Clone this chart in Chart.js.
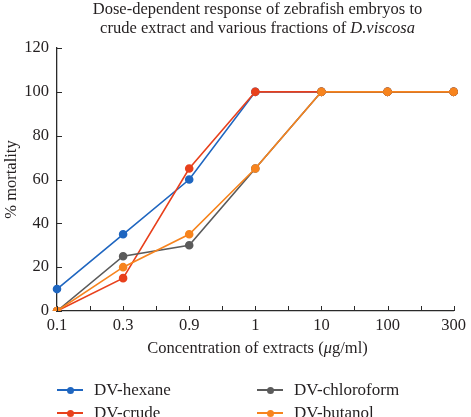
<!DOCTYPE html>
<html>
<head>
<meta charset="utf-8">
<script src="https://cdn.jsdelivr.net/npm/chart.js@4/dist/chart.umd.min.js"></script>
<style>
    body { margin: 0; background: #fff; }
    #wrap { position: relative; width: 471px; height: 417px; overflow: hidden; font-family: 'Liberation Serif', 'DejaVu Serif', serif; color: #231f20; }
    #chart { position: absolute; left: 0; top: 0; }
    #title { position: absolute; left: 57px; width: 401px; top: -1px; text-align: center; font-size: 16.5px; line-height: 19px; white-space: nowrap; }
    #xtitle { position: absolute; left: 57px; width: 401px; top: 338px; text-align: center; font-size: 16.5px; white-space: nowrap; }
    .leg { position: absolute; display: flex; align-items: center; font-size: 17px; white-space: nowrap; }
    .leg .mark { position: relative; width: 26px; height: 2px; margin-right: 11px; }
    .leg .mark span { position: absolute; left: 10px; top: -2.5px; width: 7px; height: 7px; border-radius: 50%; }
</style>
</head>
<body>
<div id="wrap">
    <canvas id="chart" width="471" height="417"></canvas>
    <div id="title">Dose-dependent response of zebrafish embryos to<br>crude extract and various fractions of <i>D.viscosa</i></div>
    <div id="xtitle">Concentration of extracts (<i>μ</i>g/ml)</div>
    <div id="legend"></div>
</div>
<script>
// Data
const concentrations = ['0.1', '0.3', '0.9', '1', '10', '100', '300'];
const hexane = [10, 35, 60, 100, 100, 100, 100];
const crude = [0, 15, 65, 100, 100, 100, 100];
const chloroform = [0, 25, 30, 65, 100, 100, 100];
const butanol = [0, 20, 35, 65, 100, 100, 100];

const seriesNames = ['DV-hexane', 'DV-crude', 'DV-chloroform', 'DV-butanol'];
const seriesColors = ['#1f66c0', '#e8401c', '#5b5b5b', '#f7841e'];
const seriesData = [hexane, crude, chloroform, butanol];

const axisColor = '#2a2a2a';

// short inward ticks, also between categories on the x axis
const inwardTicks = {
    id: 'inwardTicks',
    afterDraw(chart) {
        const ctx = chart.ctx;
        const x = chart.scales.x, y = chart.scales.y;
        ctx.save();
        ctx.strokeStyle = axisColor;
        ctx.lineWidth = 1;
        ctx.beginPath();
        for (let i = 0; i < concentrations.length; i++) {
            const px = Math.round(x.getPixelForValue(i)) + 0.5;
            ctx.moveTo(px, y.bottom);
            ctx.lineTo(px, y.bottom - 5);
            if (i < concentrations.length - 1) {
                const mx = Math.round(x.getPixelForValue(i + 0.5)) + 0.5;
                ctx.moveTo(mx, y.bottom);
                ctx.lineTo(mx, y.bottom - 5);
            }
        }
        y.ticks.forEach(t => {
            const py = Math.round(y.getPixelForValue(t.value)) + 0.5;
            ctx.moveTo(x.left, py);
            ctx.lineTo(x.left + 5, py);
        });
        ctx.stroke();
        ctx.restore();
    }
};

const font = { family: "'Liberation Serif', 'DejaVu Serif', serif", size: 16.5 };

new Chart(document.getElementById('chart'), {
    type: 'line',
    data: {
        labels: concentrations,
        datasets: seriesNames.map((name, i) => ({
            label: name,
            data: seriesData[i],
            borderColor: seriesColors[i],
            backgroundColor: seriesColors[i],
            borderWidth: 1.6,
            pointRadius: 3.5,
            pointHoverRadius: 3.5,
            tension: 0,
            order: seriesNames.length - i   // butanol drawn on top
        }))
    },
    options: {
        responsive: false,
        animation: false,
        layout: { padding: { top: 48, right: 13, bottom: 81, left: 0 } },
        plugins: {
            legend: { display: false },
            tooltip: { enabled: false }
        },
        scales: {
            x: {
                offset: false,
                grid: { display: false, drawTicks: false },
                border: { display: true, color: axisColor, width: 1.3 },
                ticks: { color: '#231f20', font: font, padding: 5, maxRotation: 0 },
                afterFit: (s) => { s.height = 25; }
            },
            y: {
                min: 0,
                max: 120,
                grid: { display: false, drawTicks: false },
                border: { display: true, color: axisColor, width: 1.3 },
                ticks: { stepSize: 20, color: '#231f20', font: font, padding: 8 },
                title: { display: true, text: '% mortality', color: '#231f20', font: font, padding: { top: 2, bottom: 0 } },
                afterFit: (s) => { s.width = 57; }
            }
        }
    },
    plugins: [inwardTicks]
});

// legend in two columns, like the original
const legendPos = [[57, 380], [57, 403], [257, 380], [257, 403]];
const legend = document.getElementById('legend');
seriesNames.forEach((name, i) => {
    const el = document.createElement('div');
    el.className = 'leg';
    el.style.left = legendPos[i][0] + 'px';
    el.style.top = legendPos[i][1] + 'px';
    el.innerHTML = `<div class="mark" style="background:${seriesColors[i]}"><span style="background:${seriesColors[i]}"></span></div>${name}`;
    legend.appendChild(el);
});
</script>
</body>
</html>
